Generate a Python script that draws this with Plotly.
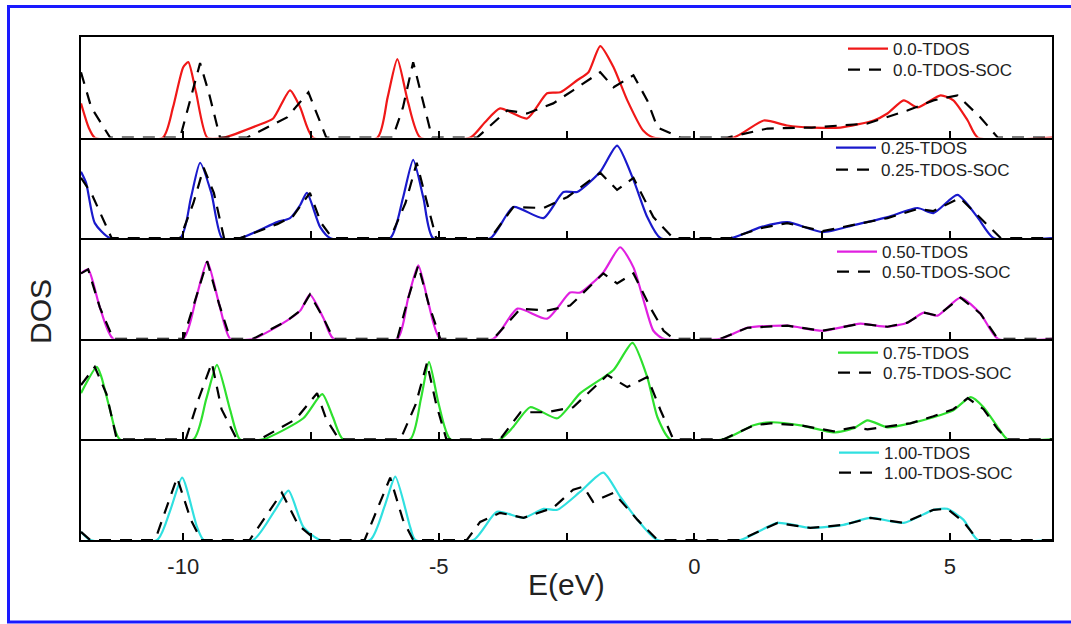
import plotly.graph_objects as go
from plotly.subplots import make_subplots

# ---------------- data (E in eV, DOS in arbitrary units) ----------------
labels = ["0.0", "0.25", "0.50", "0.75", "1.00"]
colors = ["#f01818", "#1a1acc", "#e020e0", "#2ee02e", "#30e0e0"]

# panel 1 (0.0)
e_00 = [-12.0, -11.85, -11.73, -10.4, -10.2, -10.0, -9.9, -9.75, -9.53, -9.2, -8.55, -8.24, -7.91, -7.71, -7.46,
        -6.2, -6.0, -5.81, -5.6, -5.36, -4.38, -4.1, -3.8, -3.27, -2.88, -2.62, -2.29, -2.07, -1.84, -1.58, -1.31,
        -1.0, -0.8, 0.77, 1.36, 1.82, 2.3, 2.86, 3.51, 3.78, 4.1, 4.37, 4.82, 5.07, 5.35, 5.55, 7.0]
d_00 = [0.34, 0.10, 0.0, 0.0, 0.30, 0.70, 0.75, 0.45, 0.0, 0.0, 0.12, 0.19, 0.47, 0.30, 0.0,
        0.0, 0.40, 0.78, 0.35, 0.0, 0.0, 0.15, 0.29, 0.19, 0.44, 0.45, 0.57, 0.65, 0.91, 0.70, 0.37,
        0.07, 0.0, 0.0, 0.17, 0.12, 0.10, 0.10, 0.17, 0.24, 0.37, 0.30, 0.42, 0.37, 0.17, 0.0, 0.0]
e_00s = [-12.0, -11.8, -11.43, -10.06, -9.85, -9.67, -9.5, -9.28, -8.75, -7.97, -7.55, -7.35, -7.2,
         -5.9, -5.7, -5.5, -5.3, -5.13, -4.25, -3.66, -3.27, -2.76, -2.37, -1.84, -1.58, -1.19, -0.92, -0.72,
         -0.27, 0.65, 1.43, 2.3, 3.39, 4.17, 4.68, 5.15, 5.6, 5.94, 7.0]
d_00s = [0.65, 0.30, 0.0, 0.0, 0.40, 0.74, 0.45, 0.0, 0.0, 0.20, 0.45, 0.20, 0.0,
         0.0, 0.30, 0.75, 0.35, 0.0, 0.0, 0.27, 0.24, 0.34, 0.47, 0.65, 0.50, 0.62, 0.37, 0.10,
         0.0, 0.0, 0.09, 0.10, 0.14, 0.27, 0.37, 0.42, 0.20, 0.0, 0.0]

# panel 2 (0.25)
e_25 = [-12.0, -11.9, -11.73, -11.43, -10.06, -9.85, -9.67, -9.45, -9.24, -8.89, -8.16, -7.91, -7.71, -7.58,
        -7.32, -7.12, -5.95, -5.7, -5.5, -5.3, -5.11, -3.99, -3.54, -2.95, -2.56, -2.29, -1.84, -1.51, -1.19,
        -0.92, -0.66, 0.71, 1.3, 1.82, 2.51, 3.12, 3.78, 4.37, 4.68, 5.15, 5.54, 5.86, 7.0]
d_25 = [0.66, 0.55, 0.15, 0.0, 0.0, 0.40, 0.75, 0.45, 0.0, 0.0, 0.16, 0.20, 0.33, 0.45,
        0.11, 0.0, 0.0, 0.40, 0.78, 0.40, 0.0, 0.0, 0.31, 0.20, 0.46, 0.46, 0.66, 0.92, 0.58,
        0.21, 0.0, 0.0, 0.11, 0.16, 0.06, 0.13, 0.21, 0.30, 0.25, 0.43, 0.21, 0.0, 0.0]
e_25s = [-12.0, -11.8, -11.4, -10.06, -9.8, -9.6, -9.4, -9.2, -8.89, -8.16, -7.85, -7.52, -7.3, -7.08,
         -5.95, -5.65, -5.43, -5.25, -5.05, -3.99, -3.54, -2.95, -2.48, -1.84, -1.51, -1.19, -0.8, -0.41,
         0.71, 1.3, 1.82, 2.51, 3.12, 3.78, 4.37, 4.68, 5.2, 5.6, 6.0, 7.0]
d_25s = [0.60, 0.45, 0.0, 0.0, 0.35, 0.70, 0.45, 0.0, 0.0, 0.14, 0.22, 0.45, 0.15, 0.0,
         0.0, 0.35, 0.75, 0.40, 0.0, 0.0, 0.31, 0.30, 0.41, 0.65, 0.48, 0.60, 0.21, 0.0,
         0.0, 0.10, 0.15, 0.07, 0.13, 0.20, 0.29, 0.27, 0.40, 0.20, 0.0, 0.0]

# panel 3 (0.50)
e_50 = [-12.0, -11.86, -11.63, -11.37, -10.0, -9.75, -9.53, -9.3, -9.08, -8.63, -7.97, -7.71, -7.52, -7.26,
        -7.06, -5.81, -5.6, -5.4, -5.2, -4.97, -3.93, -3.46, -2.88, -2.43, -2.23, -1.78, -1.45, -1.19, -0.99,
        -0.8, -0.6, 0.51, 1.04, 1.82, 2.51, 3.25, 3.78, 4.17, 4.49, 4.76, 5.21, 5.6, 5.94, 7.0]
d_50 = [0.65, 0.69, 0.31, 0.0, 0.0, 0.40, 0.77, 0.35, 0.0, 0.0, 0.18, 0.28, 0.44, 0.21,
        0.0, 0.0, 0.40, 0.73, 0.35, 0.0, 0.0, 0.30, 0.20, 0.46, 0.46, 0.66, 0.91, 0.71, 0.38,
        0.08, 0.0, 0.0, 0.11, 0.13, 0.08, 0.15, 0.12, 0.16, 0.26, 0.23, 0.41, 0.25, 0.0, 0.0]
e_50s = [-12.0, -11.86, -11.63, -11.37, -10.0, -9.75, -9.53, -9.3, -9.08, -8.63, -7.97, -7.71, -7.52, -7.26,
         -7.06, -5.81, -5.6, -5.4, -5.2, -4.97, -3.93, -3.4, -2.88, -2.43, -1.78, -1.51, -1.19, -0.86, -0.6,
         -0.41, 0.51, 1.04, 1.82, 2.51, 3.25, 3.78, 4.17, 4.49, 4.76, 5.21, 5.6, 5.94, 7.0]
d_50s = [0.65, 0.69, 0.31, 0.0, 0.0, 0.40, 0.77, 0.35, 0.0, 0.0, 0.18, 0.28, 0.44, 0.21,
         0.0, 0.0, 0.40, 0.73, 0.35, 0.0, 0.0, 0.30, 0.28, 0.33, 0.65, 0.55, 0.65, 0.31, 0.08,
         0.0, 0.0, 0.11, 0.13, 0.08, 0.15, 0.12, 0.16, 0.26, 0.23, 0.41, 0.25, 0.0, 0.0]

# panel 4 (0.75)
e_75 = [-12.0, -11.69, -11.6, -11.43, -11.24, -9.8, -9.55, -9.34, -9.08, -8.89, -8.44, -7.65, -7.28, -7.07,
        -6.87, -5.56, -5.35, -5.19, -5.0, -4.77, -3.8, -3.55, -3.21, -2.68, -2.23, -1.58, -1.21, -0.92, -0.72,
        -0.47, 0.57, 1.16, 1.49, 2.08, 2.73, 3.12, 3.39, 3.78, 4.23, 4.68, 5.07, 5.41, 5.66, 5.94, 6.13, 7.0]
d_75 = [0.46, 0.72, 0.62, 0.29, 0.0, 0.0, 0.40, 0.74, 0.29, 0.0, 0.0, 0.21, 0.45, 0.22,
        0.0, 0.0, 0.40, 0.77, 0.35, 0.0, 0.0, 0.12, 0.32, 0.21, 0.46, 0.69, 0.96, 0.62, 0.22,
        0.0, 0.0, 0.14, 0.17, 0.14, 0.07, 0.11, 0.19, 0.12, 0.16, 0.22, 0.29, 0.42, 0.32, 0.12, 0.0, 0.0]
e_75s = [-12.0, -11.73, -11.5, -11.3, -9.95, -9.7, -9.44, -9.25, -8.95, -8.5, -7.8, -7.38, -7.2, -6.95,
         -5.75, -5.45, -5.23, -5.05, -4.85, -3.8, -3.4, -2.88, -2.37, -1.7, -1.31, -0.92, -0.66, -0.41,
         0.57, 1.16, 1.49, 2.08, 2.73, 3.12, 3.39, 3.78, 4.23, 4.68, 5.07, 5.35, 5.66, 5.94, 6.13, 7.0]
d_75s = [0.54, 0.72, 0.45, 0.0, 0.0, 0.40, 0.76, 0.30, 0.0, 0.0, 0.20, 0.46, 0.20, 0.0,
         0.0, 0.35, 0.76, 0.35, 0.0, 0.0, 0.27, 0.27, 0.32, 0.64, 0.52, 0.62, 0.29, 0.0,
         0.0, 0.14, 0.16, 0.14, 0.08, 0.12, 0.10, 0.13, 0.16, 0.23, 0.30, 0.41, 0.30, 0.10, 0.0, 0.0]

# panel 5 (1.00)
e_100 = [-12.0, -11.82, -10.51, -10.25, -10.02, -9.73, -9.6, -8.63, -8.2, -7.94, -7.65, -7.32,
         -6.34, -6.05, -5.85, -5.56, -5.46, -4.32, -3.86, -3.34, -2.95, -2.68, -2.23, -1.78, -1.45, -1.11,
         -0.72, 0.9, 1.63, 2.27, 2.92, 3.45, 4.1, 4.68, 4.95, 5.27, 5.55, 7.0]
d_100 = [0.08, 0.0, 0.0, 0.30, 0.62, 0.13, 0.0, 0.0, 0.30, 0.49, 0.13, 0.0,
         0.0, 0.35, 0.63, 0.13, 0.0, 0.0, 0.28, 0.22, 0.31, 0.30, 0.48, 0.67, 0.43, 0.20,
         0.0, 0.0, 0.17, 0.12, 0.15, 0.22, 0.17, 0.30, 0.31, 0.20, 0.0, 0.0]
e_100s = [-12.0, -11.82, -10.55, -10.12, -9.85, -9.65, -8.7, -8.07, -7.75, -7.4,
          -6.45, -5.95, -5.7, -5.5, -4.45, -4.19, -3.8, -3.34, -2.76, -2.37, -2.17, -1.98, -1.58, -1.11,
          -0.72, 0.9, 1.63, 2.27, 2.92, 3.45, 4.1, 4.68, 4.95, 5.27, 5.55, 7.0]
d_100s = [0.08, 0.0, 0.0, 0.62, 0.20, 0.0, 0.0, 0.47, 0.15, 0.0,
          0.0, 0.62, 0.20, 0.0, 0.0, 0.18, 0.27, 0.22, 0.32, 0.50, 0.53, 0.38, 0.47, 0.20,
          0.0, 0.0, 0.17, 0.12, 0.15, 0.22, 0.17, 0.30, 0.31, 0.18, 0.0, 0.0]

tdos_e = [e_00, e_25, e_50, e_75, e_100]
tdos_d = [d_00, d_25, d_50, d_75, d_100]
soc_e = [e_00s, e_25s, e_50s, e_75s, e_100s]
soc_d = [d_00s, d_25s, d_50s, d_75s, d_100s]

tick_vals = [-10, -7.5, -5, -2.5, 0, 2.5, 5]
tick_text = ["-10", "", "-5", "", "0", "", "5"]

# ---------------- figure ----------------
W, H = 1071, 624
ML, MR, MT, MB = 81, 19, 37, 84
PW, PH = W - ML - MR, H - MT - MB

fig = make_subplots(rows=5, cols=1, shared_xaxes=True, vertical_spacing=0)

font = "Liberation Sans, Arial, sans-serif"
legend_left_px = [843, 831, 832, 833, 834]
legend_y_px = [(49, 70), (148, 170), (252, 272), (353, 373), (453, 473)]

def add_legend(name, left_px, y_px):
    fig.update_layout({name: dict(x=(left_px - ML) / PW, y=(540 - y_px) / PH, xanchor="left",
                                  yanchor="middle", bgcolor="rgba(0,0,0,0)", borderwidth=0,
                                  font=dict(family=font, size=17, color="#222"), itemwidth=40)})

for i in range(5):
    lg1 = f"legend{2 * i + 1}" if i > 0 else "legend"
    lg2 = f"legend{2 * i + 2}"
    fig.add_trace(go.Scatter(x=tdos_e[i], y=tdos_d[i], mode="lines", name=f"{labels[i]}-TDOS",
                             line=dict(color=colors[i], width=2.2, shape="spline", smoothing=0.6),
                             legend=lg1), row=i + 1, col=1)
    fig.add_trace(go.Scatter(x=soc_e[i], y=soc_d[i], mode="lines", name=f"{labels[i]}-TDOS-SOC",
                             line=dict(color="black", width=2.2, dash="12px,9px"),
                             legend=lg2), row=i + 1, col=1)
    add_legend(lg1, legend_left_px[i], legend_y_px[i][0])
    add_legend(lg2, legend_left_px[i], legend_y_px[i][1])

for i in range(5):
    fig.update_yaxes(range=[0, 1.0], showticklabels=False, ticks="", showgrid=False, zeroline=False,
                     showline=True, mirror=True, linecolor="black", linewidth=2, row=i + 1, col=1)
    fig.update_xaxes(range=[-12, 7], showgrid=False, zeroline=False, showline=True, mirror=(i == 0),
                     linecolor="black", linewidth=2, ticks="inside", ticklen=7, tickwidth=2,
                     tickcolor="black", tickvals=tick_vals, ticktext=tick_text,
                     showticklabels=(i == 4), row=i + 1, col=1)

fig.update_xaxes(tickfont=dict(family=font, size=22, color="#222"), ticklabelstandoff=6, row=5, col=1)

fig.add_annotation(text="E(eV)", xref="paper", yref="paper", x=(566 - ML) / PW, y=(540 - 584) / PH,
                   showarrow=False, font=dict(family=font, size=30, color="#222"), xanchor="center", yanchor="middle")
fig.add_annotation(text="DOS", xref="paper", yref="paper", x=(40 - ML) / PW, y=(540 - 312) / PH,
                   showarrow=False, textangle=-90, font=dict(family=font, size=30, color="#222"),
                   xanchor="center", yanchor="middle")

# blue frame around the figure
fig.add_shape(type="rect", xref="paper", yref="paper",
              x0=(8.5 - ML) / PW, x1=(1085 - ML) / PW, y0=(540 - 622) / PH, y1=(540 - 6.5) / PH,
              line=dict(color="#1a1aff", width=3), fillcolor="rgba(0,0,0,0)", layer="above")

fig.update_layout(width=W, height=H, margin=dict(l=ML, r=MR, t=MT, b=MB),
                  plot_bgcolor="white", paper_bgcolor="white", showlegend=True)

fig.write_html("out.html", config={"displayModeBar": False},
               post_script="document.body.style.margin='0';document.body.style.overflow='hidden';")
